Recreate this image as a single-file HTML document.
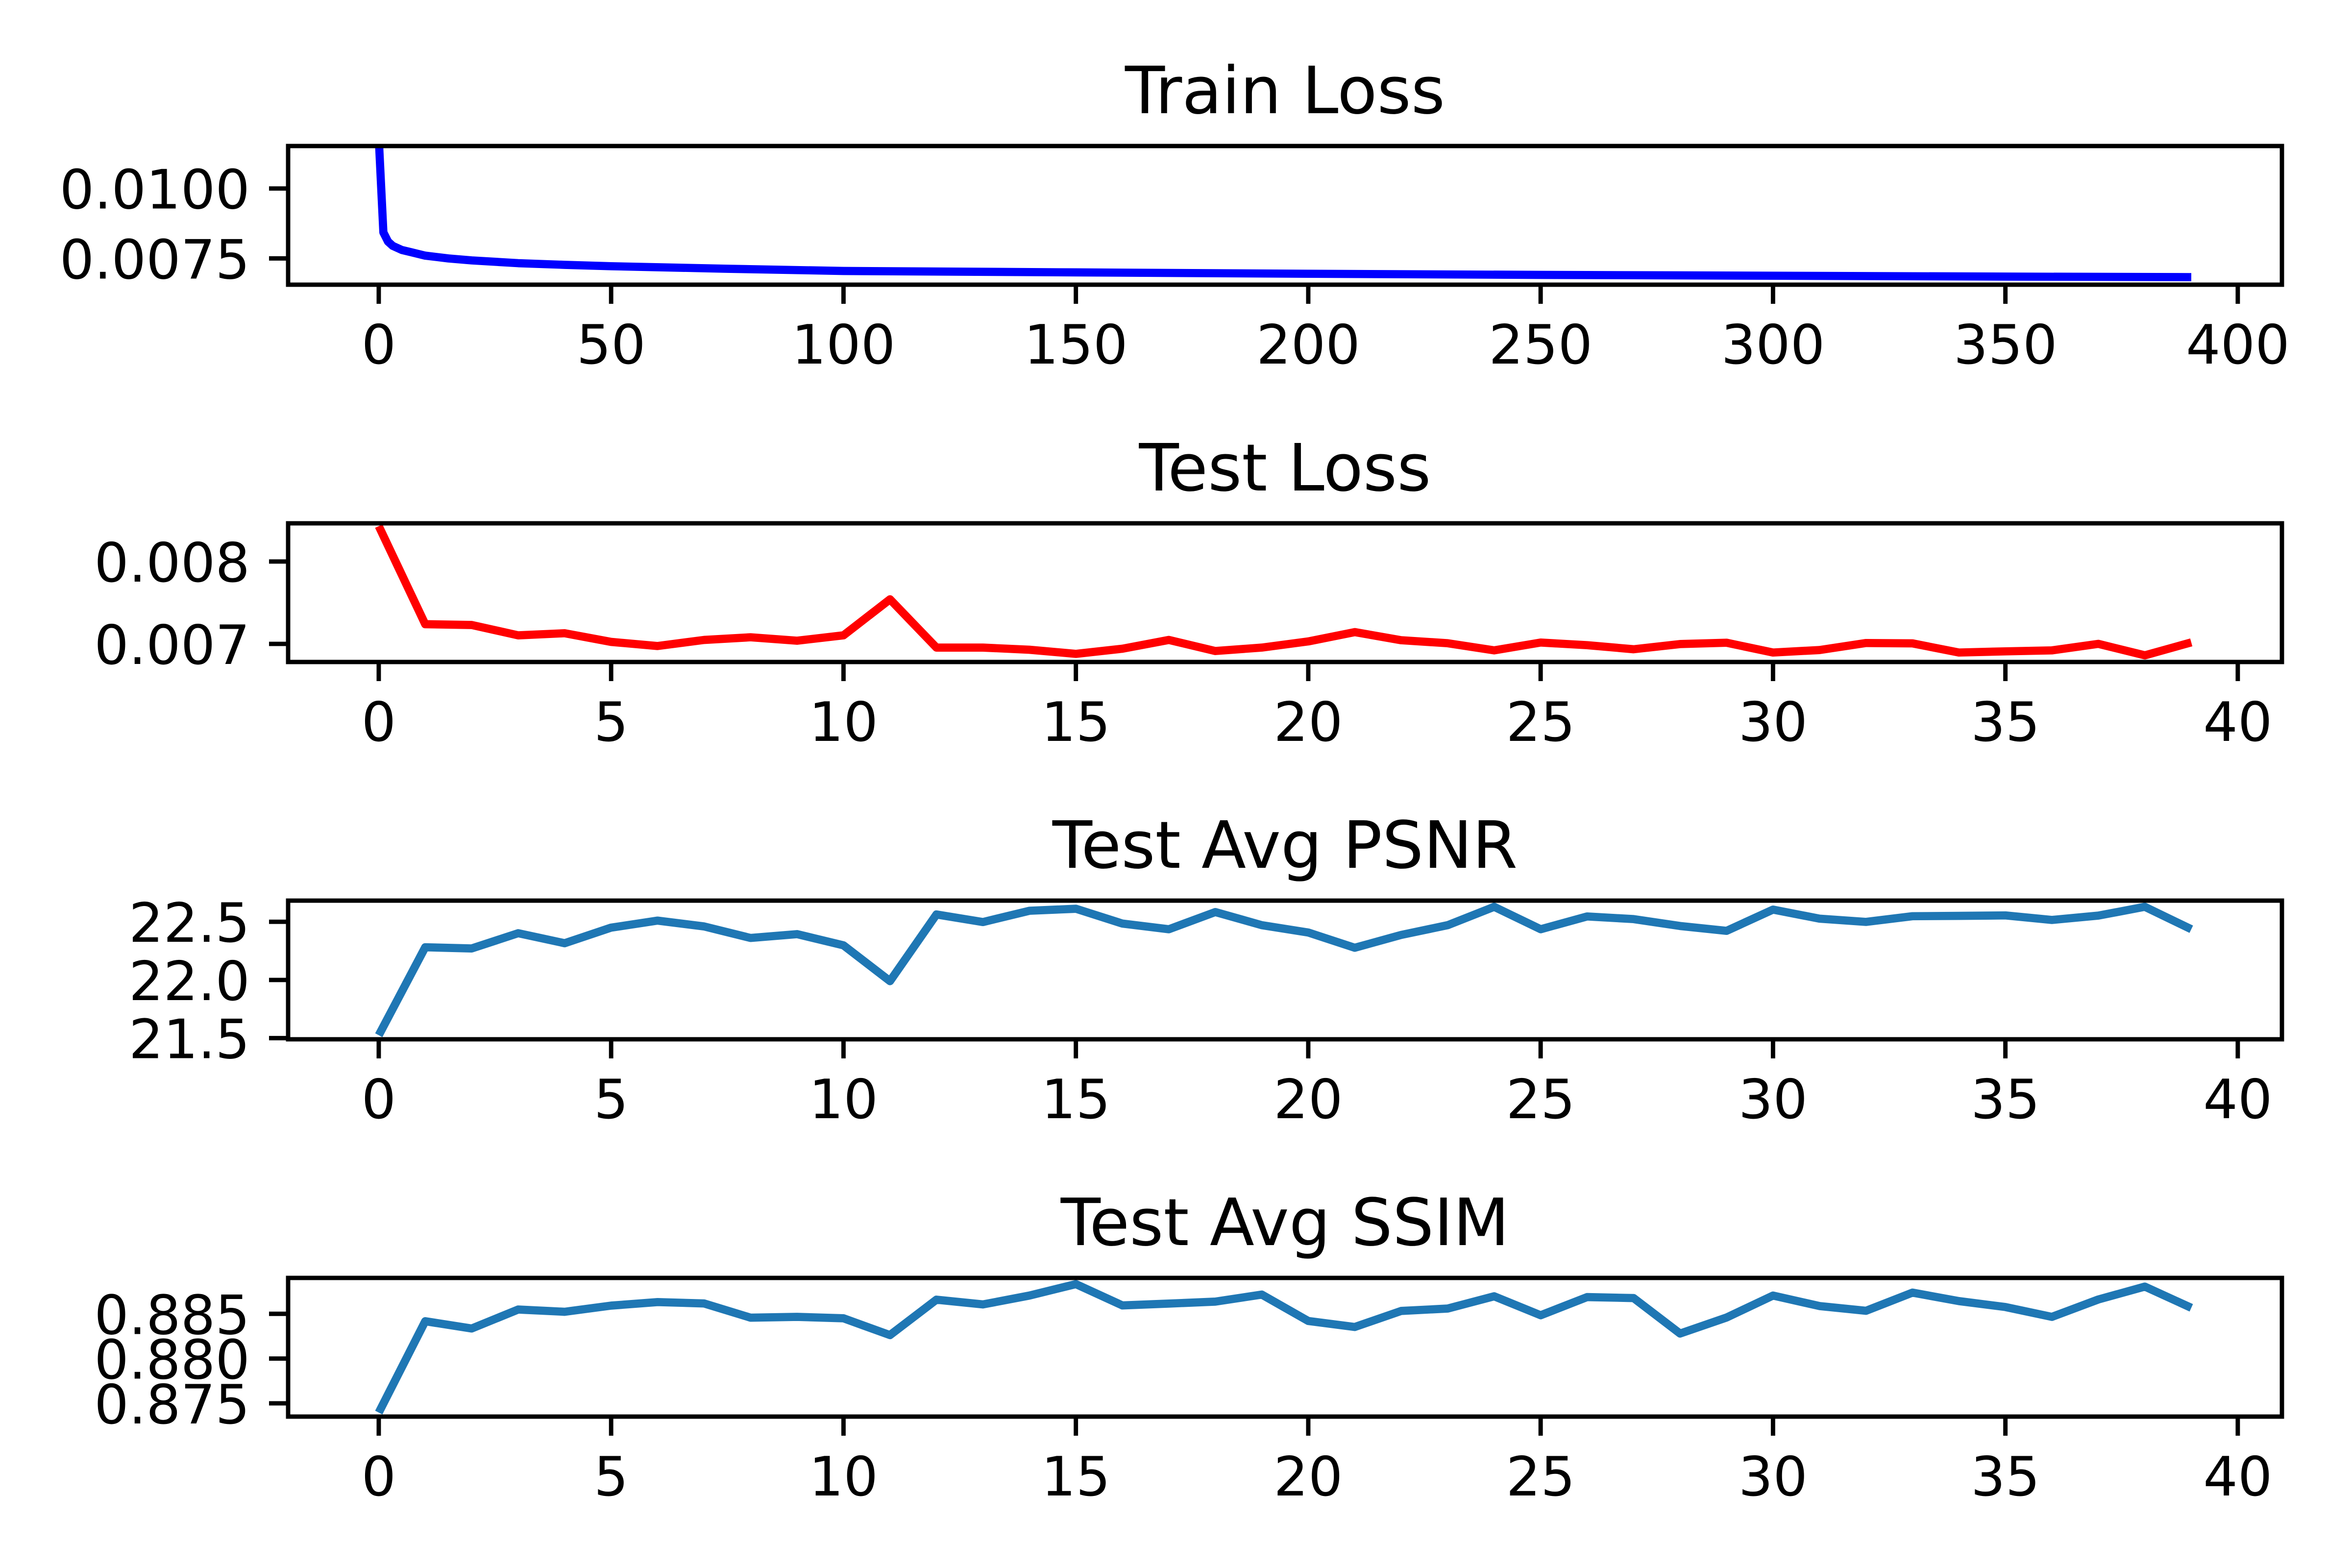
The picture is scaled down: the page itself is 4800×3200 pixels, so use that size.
<!DOCTYPE html>
<html><head><meta charset="utf-8"><style>
html,body{margin:0;padding:0;background:#fff;}
svg{display:block;}
text{font-family:"DejaVu Sans","Liberation Sans",sans-serif;fill:#000;}
</style></head><body>
<svg id="fig" width="4800" height="3200" viewBox="0 0 4800 3200" xmlns="http://www.w3.org/2000/svg">
<rect width="4800" height="3200" fill="#fff"/>
</svg>
<script>
// ---- data ----
const trainEpochs = [0,1,2,3,5,7,10,15,20,30,40,50,75,100,150,200,250,300,350,390];
const trainLoss = [0.0118,0.00843,0.0081,0.00795,0.0078,0.00772,0.0076,0.0075,0.00743,0.00733,0.00727,0.00722,0.00713,0.00705,0.007,0.00695,0.00691,0.00688,0.00685,0.00683];
const testLoss = [0.00843,0.007239,0.007229,0.007104,0.007129,0.007024,0.006974,0.007048,0.00708,0.007038,0.007104,0.007541,0.006955,0.006955,0.006929,0.006879,0.006941,0.007048,0.006913,0.006955,0.00703,0.007143,0.007044,0.007008,0.006921,0.007016,0.006984,0.006935,0.006998,0.007014,0.006895,0.006925,0.00701,0.007006,0.006895,0.006909,0.006921,0.007,0.006861,0.007018];
const testPsnr = [21.525,22.281,22.271,22.402,22.316,22.45,22.51,22.46,22.361,22.394,22.298,21.99,22.563,22.498,22.595,22.612,22.485,22.436,22.584,22.471,22.408,22.277,22.387,22.471,22.629,22.436,22.546,22.523,22.464,22.422,22.605,22.527,22.499,22.548,22.551,22.555,22.516,22.553,22.629,22.436];
const testSsim = [0.87397,0.88417,0.88336,0.88548,0.88523,0.88592,0.88631,0.88616,0.88457,0.88466,0.8845,0.88262,0.88658,0.88605,0.88704,0.88832,0.88594,0.88614,0.88636,0.88715,0.8842,0.88353,0.88532,0.88559,0.88696,0.88484,0.88687,0.88676,0.8828,0.88459,0.88704,0.88587,0.88534,0.88737,0.88642,0.88576,0.88466,0.8866,0.88804,0.88567];
const trainXTicks = [0,50,100,150,200,250,300,350,400];
const epochXTicks = [0,5,10,15,20,25,30,35,40];
const trainYTicks = [0.0075,0.0100];
const trainYLabels = ["0.0075","0.0100"];
const lossYTicks = [0.007,0.008];
const lossYLabels = ["0.007","0.008"];
const psnrYTicks = [21.5,22.0,22.5];
const psnrYLabels = ["21.5","22.0","22.5"];
const ssimYTicks = [0.875,0.880,0.885];
const ssimYLabels = ["0.875","0.880","0.885"];

const NS = "http://www.w3.org/2000/svg";
const fig = document.getElementById('fig');
function mk(tag, attrs, parent){
  const e = document.createElementNS(NS, tag);
  for (const k in attrs) e.setAttribute(k, attrs[k]);
  (parent||fig).appendChild(e);
  return e;
}
const AX_L = 588, AX_R = 4657;

function panel(cfg){
  const g = mk('g', {});
  
  
  const top = cfg.top, bot = cfg.top + 283;
  const xs = v => AX_L + (v - cfg.xlim[0]) / (cfg.xlim[1] - cfg.xlim[0]) * (AX_R - AX_L);
  const ys = v => bot - (v - cfg.ylim[0]) / (cfg.ylim[1] - cfg.ylim[0]) * (bot - top);
  const t = mk('text', {x: (AX_L + AX_R) / 2, y: top - 67, 'font-size': 133, 'text-anchor': 'middle'}, g);
  t.textContent = cfg.title;
  
  
  const cid = 'clip-' + cfg.name;
  const cp = mk('clipPath', {id: cid}, g);
  mk('rect', {x: AX_L, y: top, width: AX_R - AX_L, height: bot - top}, cp);
  const pts = cfg.y.map((v, i) => xs(cfg.x[i]).toFixed(1) + ',' + ys(v).toFixed(1)).join(' ');
  const line = mk('polyline', {points: pts, fill: 'none', stroke: cfg.color, 'stroke-width': 16.7, 'stroke-linejoin': 'round', 'stroke-linecap': 'butt', 'clip-path': 'url(#' + cid + ')'}, g);
  
  
  const fr = mk('rect', {x: AX_L, y: top, width: AX_R - AX_L, height: bot - top, fill: 'none', stroke: '#000', 'stroke-width': 8.9, 'stroke-linejoin': 'miter'}, g);
  
  
  cfg.xticks.forEach(v => {
    const x = xs(v);
    const tk = mk('line', {x1: x, x2: x, y1: bot, y2: bot + 39, stroke: '#000', 'stroke-width': 8.9}, g);
    
    
    const lb = mk('text', {x: x, y: bot + 161, 'font-size': 111, 'text-anchor': 'middle'}, g);
    lb.textContent = String(v);
    
    
  });
  cfg.yticks.forEach((v, i) => {
    const y = ys(v);
    const tk = mk('line', {x1: AX_L - 39, x2: AX_L, y1: y, y2: y, stroke: '#000', 'stroke-width': 8.9}, g);
    
    
    const lb = mk('text', {x: AX_L - 78, y: y + 41, 'font-size': 111, 'text-anchor': 'end'}, g);
    lb.textContent = cfg.ylabels[i];
    
    
  });
}
const epochs = testLoss.map((_, i) => i);
panel({name: 'train-loss', title: 'Train Loss', top: 298, x: trainEpochs, y: trainLoss, color: '#0000ff',
  xlim: [-19.5, 409.5], ylim: [0.00656, 0.01152], xticks: trainXTicks, yticks: trainYTicks, ylabels: trainYLabels});
panel({name: 'test-loss', title: 'Test Loss', top: 1068, x: epochs, y: testLoss, color: '#ff0000',
  xlim: [-1.95, 40.95], ylim: [0.00678, 0.008464], xticks: epochXTicks, yticks: lossYTicks, ylabels: lossYLabels});
panel({name: 'test-psnr', title: 'Test Avg PSNR', top: 1838, x: epochs, y: testPsnr, color: '#1f77b4',
  xlim: [-1.95, 40.95], ylim: [21.49, 22.682], xticks: epochXTicks, yticks: psnrYTicks, ylabels: psnrYLabels});
panel({name: 'test-ssim', title: 'Test Avg SSIM', top: 2608, x: epochs, y: testSsim, color: '#1f77b4',
  xlim: [-1.95, 40.95], ylim: [0.87352, 0.88901], xticks: epochXTicks, yticks: ssimYTicks, ylabels: ssimYLabels});
</script>
</body></html>
